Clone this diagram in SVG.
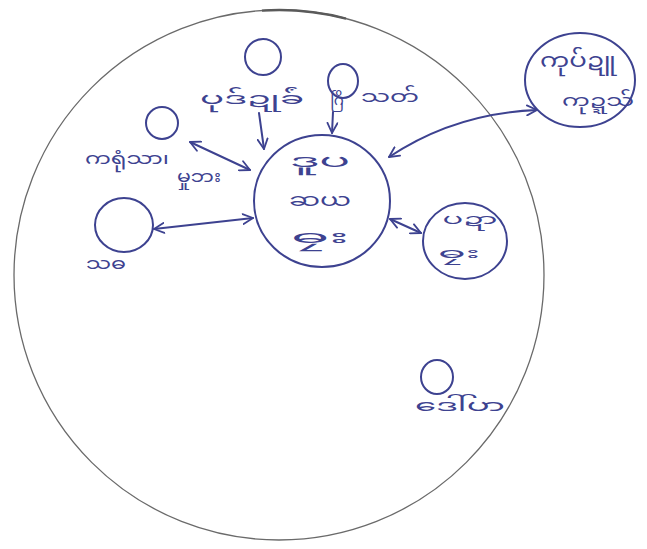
<svg xmlns="http://www.w3.org/2000/svg" width="647" height="549" viewBox="0 0 647 549">
<style>
.pen{fill:none;stroke:#3d4290;stroke-width:2;stroke-linecap:round;stroke-linejoin:round}
.t{fill:#3d4290;font-family:"Noto Sans Myanmar","Padauk","Myanmar Text","Noto Sans",sans-serif;text-anchor:middle;dominant-baseline:central}
.big{fill:none;stroke:#6a6a6a;stroke-width:1.3}
</style>
<defs>
<marker id="ah" viewBox="0 0 12 12" refX="11" refY="6" markerWidth="12" markerHeight="12" markerUnits="userSpaceOnUse" orient="auto-start-reverse">
<path d="M1 1 L11 6 L1 11" fill="none" stroke="#3d4290" stroke-width="1.8" stroke-linecap="round" stroke-linejoin="round"/>
</marker>
</defs>
<rect width="647" height="549" fill="#ffffff"/>
<g id="boundary"><circle class="big" cx="279" cy="275" r="265"/>
<path d="M262 10.6 A265 265 0 0 1 346 18.6" fill="none" stroke="#5a5a5a" stroke-width="2.4"/></g>
<g id="center"><ellipse class="pen" cx="322" cy="201" rx="68" ry="66"/>
<text class="t" x="320" y="162" font-size="18" textLength="60" lengthAdjust="spacingAndGlyphs">ဒူပ</text>
<text class="t" x="320" y="201" font-size="18" textLength="62" lengthAdjust="spacingAndGlyphs">ဆယ</text>
<text class="t" x="320" y="238" font-size="18" textLength="58" lengthAdjust="spacingAndGlyphs">ဓၠး</text></g>
<g id="n-right"><ellipse class="pen" cx="465" cy="241" rx="42" ry="38"/>
<text class="t" x="470" y="220" font-size="15" textLength="55" lengthAdjust="spacingAndGlyphs">ပဍာ</text>
<text class="t" x="459" y="254" font-size="15" textLength="42" lengthAdjust="spacingAndGlyphs">ဓၠး</text></g>
<g id="n-topright"><ellipse class="pen" cx="580" cy="80" rx="55" ry="47"/>
<text class="t" x="578" y="62" font-size="19" textLength="76" lengthAdjust="spacingAndGlyphs">ကုပ်ဍူ</text>
<text class="t" x="598" y="102" font-size="17" textLength="72" lengthAdjust="spacingAndGlyphs">ကုဍ္ဍသ်</text></g>
<g id="n-left"><ellipse class="pen" cx="124" cy="225" rx="29" ry="27"/>
<text class="t" x="106" y="265" font-size="16" textLength="40" lengthAdjust="spacingAndGlyphs">သဓ</text></g>
<g id="n-topleft"><ellipse class="pen" cx="162" cy="123" rx="16" ry="16"/>
<text class="t" x="127" y="160" font-size="16" textLength="84" lengthAdjust="spacingAndGlyphs">ကရုံသာ၊</text>
<text class="t" x="199" y="178" font-size="16" textLength="44" lengthAdjust="spacingAndGlyphs">မှုဘး</text></g>
<g id="n-top1"><ellipse class="pen" cx="263" cy="57" rx="18" ry="18"/>
<text class="t" x="252" y="100" font-size="17" textLength="104" lengthAdjust="spacingAndGlyphs">ပုဒ်ဍုခ်ံ</text></g>
<g id="n-top2"><ellipse class="pen" cx="343" cy="81" rx="15" ry="17"/>
<text class="t" x="337" y="101" font-size="15">ဂြိ</text>
<text class="t" x="390" y="98" font-size="17" textLength="58" lengthAdjust="spacingAndGlyphs">သတ်</text></g>
<g id="n-bottom"><ellipse class="pen" cx="437" cy="377" rx="16" ry="17"/>
<text class="t" x="460" y="407" font-size="17" textLength="90" lengthAdjust="spacingAndGlyphs">ဒေါ်ပာ</text></g>
<g id="connectors">
<path class="pen" d="M259 113 L264 149" marker-end="url(#ah)"/>
<path class="pen" d="M333 112 L332 133" marker-end="url(#ah)"/>
<path class="pen" d="M190 142 L250 170" marker-start="url(#ah)" marker-end="url(#ah)"/>
<path class="pen" d="M154 229 L253 218" marker-start="url(#ah)" marker-end="url(#ah)"/>
<path class="pen" d="M390 219 L421 233" marker-start="url(#ah)" marker-end="url(#ah)"/>
<path class="pen" d="M389 157 Q455 113 537 110" marker-start="url(#ah)" marker-end="url(#ah)"/>
</g>
</svg>
